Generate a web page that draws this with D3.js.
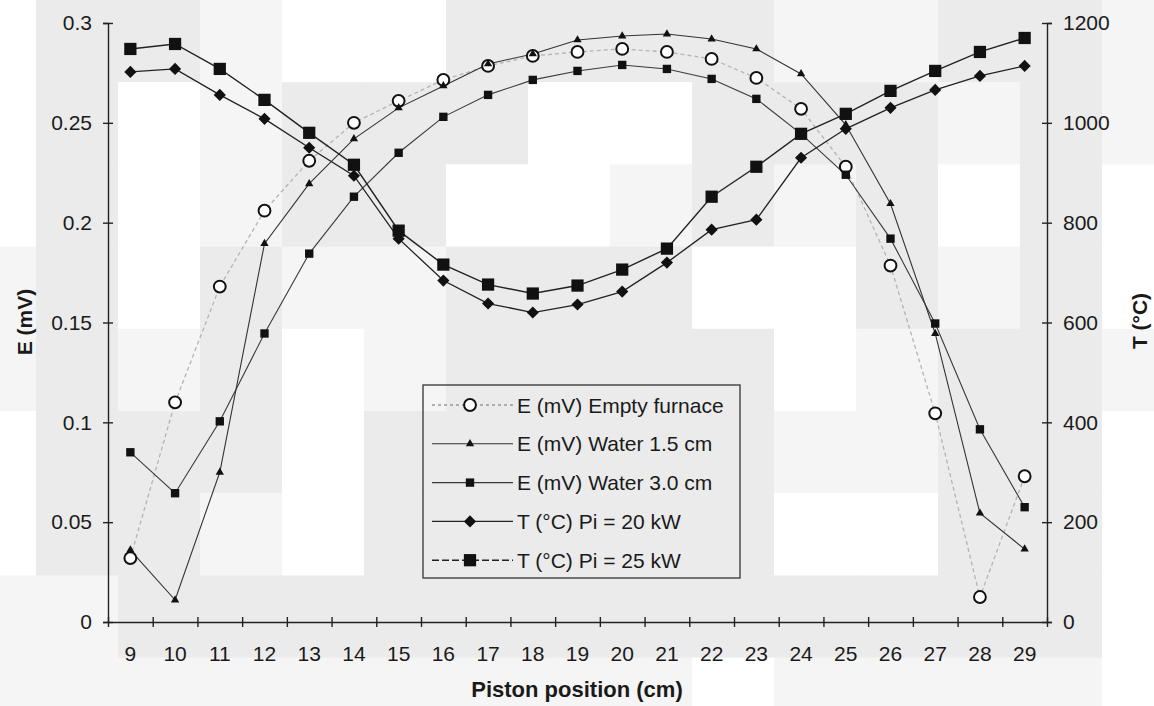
<!DOCTYPE html>
<html>
<head>
<meta charset="utf-8">
<script src="https://cdn.jsdelivr.net/npm/d3@7"></script>
<style>
  html, body { margin: 0; padding: 0; background: #fff; }
  svg { display: block; font-family: "Liberation Sans", Arial, Helvetica, sans-serif; }
</style>
</head>
<body>
<svg id="chart" width="1154" height="706"></svg>
<script>
// ---------------- data ----------------
const categories = [9, 10, 11, 12, 13, 14, 15, 16, 17, 18, 19, 20, 21, 22, 23, 24, 25, 26, 27, 28, 29];
const emptyFurnace = [0.032, 0.110, 0.168, 0.206, 0.231, 0.250, 0.261, 0.2715, 0.2785, 0.2835, 0.2855, 0.287, 0.2855, 0.282, 0.2725, 0.257, 0.228, 0.1785, 0.1045, 0.0125, 0.073];
const water15 = [0.036, 0.011, 0.075, 0.1895, 0.2195, 0.242, 0.2575, 0.2685, 0.2795, 0.2845, 0.2915, 0.2935, 0.2945, 0.292, 0.287, 0.2745, 0.249, 0.2095, 0.1445, 0.0545, 0.0365];
const water30 = [0.085, 0.0645, 0.1005, 0.1445, 0.1845, 0.213, 0.235, 0.253, 0.264, 0.2715, 0.276, 0.279, 0.277, 0.272, 0.262, 0.2445, 0.224, 0.192, 0.1495, 0.0965, 0.0575];
const temp20 = [1102, 1108, 1056, 1008, 950, 894, 768, 684, 638, 620, 636, 662, 720, 786, 806, 930, 988, 1030, 1066, 1094, 1114];
const temp25 = [1148, 1158, 1108, 1046, 980, 916, 784, 716, 676, 658, 674, 706, 748, 852, 912, 978, 1018, 1064, 1104, 1142, 1170];
const seriesNames = ["E (mV) Empty furnace", "E (mV) Water 1.5 cm", "E (mV) Water 3.0 cm", "T (°C) Pi = 20 kW", "T (°C) Pi = 25 kW"];
const leftTicks = [0, 0.05, 0.1, 0.15, 0.2, 0.25, 0.3];
const leftTickLabels = ["0", "0.05", "0.1", "0.15", "0.2", "0.25", "0.3"];
const rightTicks = [0, 200, 400, 600, 800, 1000, 1200];
const rightTickLabels = ["0", "200", "400", "600", "800", "1000", "1200"];
const xTitle = "Piston position (cm)";
const yLeftTitle = "E (mV)";
const yRightTitle = "T (°C)";

// background shading of the scanned page (G gray, L light, W white)
const bgRows = [
  "WGGLWWGGGGLLGGL",
  "WGWLGGGWWGGGLGL",
  "WGWLGGWWLGLGWGW",
  "LGWGLLGGGWWGLGW",
  "LGLGWLGGGGWLGGL",
  "WGGGWGGGGGLLGGW",
  "WGGLWGGGGGWWGGW",
  "LLGGGGGGGGGGGGW",
  "LLLLLLLLLWLLLLW"
];

// ---------------- drawing ----------------
(function () {
const svg = d3.select("#chart");
const shade = { G: "#ebebeb", L: "#f5f5f5", W: "#ffffff" };
const bg = svg.append("g");
bgRows.forEach((row, r) => {
  row.split("").forEach((ch, c) => {
    bg.append("rect")
      .attr("x", 36 + 82 * (c - 1))
      .attr("y", r * 82.2)
      .attr("width", 82.5)
      .attr("height", 82.7)
      .attr("fill", shade[ch]);
  });
});

const pLeft = 108, pRight = 1047, pTop = 23, pBottom = 622;
const x = d3.scaleBand().domain(categories).range([pLeft, pRight]).padding(0);
const cx = d => x(d) + x.bandwidth() / 2;
const yL = d3.scaleLinear().domain([0, 0.3]).range([pBottom, pTop]);
const yR = d3.scaleLinear().domain([0, 1200]).range([pBottom, pTop]);
const fs = 21;
const axisColor = "#222";

// left axis
const gL = svg.append("g").attr("transform", `translate(${pLeft},0)`)
  .call(d3.axisLeft(yL).tickValues(leftTicks).tickSizeOuter(0).tickSize(5).tickPadding(11)
    .tickFormat((d, i) => leftTickLabels[i]));
gL.selectAll(".tick line").attr("x1", 5);
// right axis
const gR = svg.append("g").attr("transform", `translate(${pRight},0)`)
  .call(d3.axisRight(yR).tickValues(rightTicks).tickSizeOuter(0).tickSize(5).tickPadding(11)
    .tickFormat((d, i) => rightTickLabels[i]));
gR.selectAll(".tick line").attr("x1", -5);
// bottom axis: tick marks at category boundaries
const bnd = d3.scaleLinear().domain([0, categories.length]).range([pLeft, pRight]);
const gB = svg.append("g").attr("transform", `translate(0,${pBottom})`)
  .call(d3.axisBottom(bnd).tickValues(d3.range(0, categories.length + 1)).tickSize(5).tickSizeOuter(0).tickFormat(""));
gB.selectAll(".tick line").attr("y1", -5);
// bottom axis labels
const gBL = svg.append("g").attr("transform", `translate(0,${pBottom})`)
  .call(d3.axisBottom(x).tickSize(0).tickPadding(24));
gBL.select(".domain").remove();

[gL, gR, gB, gBL].forEach(g => {
  g.selectAll("text").attr("font-size", fs).attr("fill", "#1a1a1a")
    .attr("font-family", "Liberation Sans, Arial, sans-serif");
  g.selectAll("line, path").attr("stroke", axisColor).attr("stroke-width", 1.4);
});

// axis titles
svg.append("text").attr("x", 577).attr("y", 697).attr("text-anchor", "middle")
  .attr("font-size", 22).attr("font-weight", "bold").attr("fill", "#1a1a1a").text(xTitle);
svg.append("text").attr("transform", "translate(24,322) rotate(-90)").attr("text-anchor", "middle")
  .attr("dominant-baseline", "central")
  .attr("font-size", 21).attr("font-weight", "bold").attr("fill", "#1a1a1a").text(yLeftTitle);
svg.append("text").attr("transform", "translate(1139,321) rotate(-90)").attr("text-anchor", "middle")
  .attr("dominant-baseline", "central")
  .attr("font-size", 21).attr("font-weight", "bold").attr("fill", "#1a1a1a").text(yRightTitle);

// series
const series = [
  { name: seriesNames[0], values: emptyFurnace, scale: yL, stroke: "#b4b4b4", width: 1.3, dash: "4,3",
    symbol: d3.symbolCircle, size: 110, fill: "#fff", mstroke: "#111", mwidth: 2, rot: 0 },
  { name: seriesNames[1], values: water15, scale: yL, stroke: "#333", width: 1.1, dash: null,
    symbol: d3.symbolTriangle, size: 30, fill: "#111", mstroke: "none", mwidth: 0, rot: 0 },
  { name: seriesNames[2], values: water30, scale: yL, stroke: "#3a3a3a", width: 1.1, dash: null,
    symbol: d3.symbolSquare, size: 70, fill: "#111", mstroke: "none", mwidth: 0, rot: 0 },
  { name: seriesNames[3], values: temp20, scale: yR, stroke: "#222", width: 1.3, dash: null,
    symbol: d3.symbolSquare, size: 74, fill: "#111", mstroke: "none", mwidth: 0, rot: 45 },
  { name: seriesNames[4], values: temp25, scale: yR, stroke: "#222", width: 1.4, dash: null,
    symbol: d3.symbolSquare, size: 150, fill: "#111", mstroke: "none", mwidth: 0, rot: 0 }
];

const plot = svg.append("g");
series.forEach(s => {
  const line = d3.line().x((d, i) => cx(categories[i])).y(d => s.scale(d));
  plot.append("path").datum(s.values).attr("d", line)
    .attr("fill", "none").attr("stroke", s.stroke).attr("stroke-width", s.width)
    .attr("stroke-dasharray", s.dash);
});
series.forEach(s => {
  const sym = d3.symbol().type(s.symbol).size(s.size);
  plot.append("g").selectAll("path").data(s.values).join("path")
    .attr("d", sym)
    .attr("transform", (d, i) => `translate(${cx(categories[i])},${s.scale(d)}) rotate(${s.rot})`)
    .attr("fill", s.fill).attr("stroke", s.mstroke).attr("stroke-width", s.mwidth);
});

// legend
const lg = svg.append("g");
lg.append("rect").attr("x", 423).attr("y", 385).attr("width", 317).attr("height", 193)
  .attr("fill", "none").attr("stroke", "#333").attr("stroke-width", 1.3);
const legendDash = ["3,3", null, null, null, "7,3"];
series.forEach((s, i) => {
  const yy = 405 + i * 38.8;
  lg.append("line").attr("x1", 432).attr("x2", 513).attr("y1", yy).attr("y2", yy)
    .attr("stroke", i === 0 ? "#9a9a9a" : s.stroke).attr("stroke-width", s.width)
    .attr("stroke-dasharray", legendDash[i]);
  lg.append("path").attr("d", d3.symbol().type(s.symbol).size(s.size)())
    .attr("transform", `translate(470,${yy}) rotate(${s.rot})`)
    .attr("fill", s.fill).attr("stroke", s.mstroke).attr("stroke-width", s.mwidth);
  lg.append("text").attr("x", 517).attr("y", yy).attr("dominant-baseline", "central")
    .attr("font-size", fs).attr("fill", "#1a1a1a").text(s.name);
});
})();
</script>
</body>
</html>
